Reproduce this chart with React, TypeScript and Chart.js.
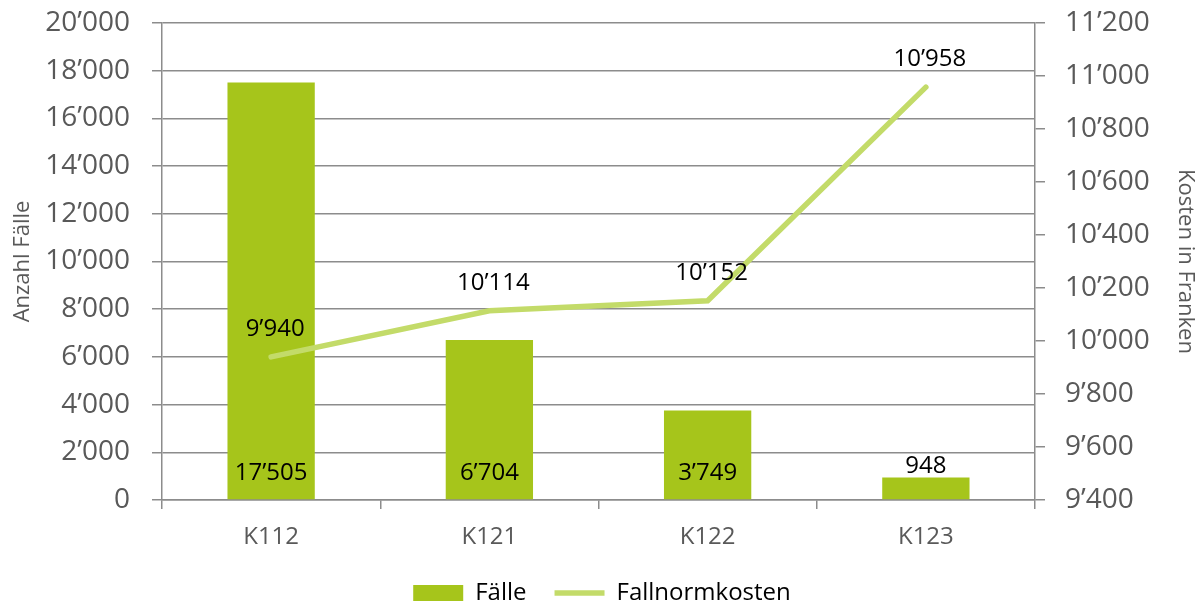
import React, { useEffect, useRef } from "react";
import { Chart, registerables } from "chart.js";

Chart.register(...registerables);

const categories = ["K112", "K121", "K122", "K123"];
const faelle = [17505, 6704, 3749, 948];
const fallnormkosten = [9940, 10114, 10152, 10958];

const leftTitle = "Anzahl Fälle";
const rightTitle = "Kosten in Franken";
const barLabel = "Fälle";
const lineLabel = "Fallnormkosten";

const FONT = "'Open Sans', sans-serif";
const BAR_COLOR = "#a6c51b";
const LINE_COLOR = "#c3db69";
const GRID_COLOR = "#8c8c8c";
const TICK_COLOR = "#595959";

function fmt(v: number): string {
  return String(Math.round(v)).replace(/\B(?=(\d{3})+(?!\d))/g, "\u2019");
}

const dataLabelPlugin = {
  id: "dataLabels",
  afterDatasetsDraw(chart: any) {
    const ctx = chart.ctx;
    ctx.save();
    ctx.font = `24px ${FONT}`;
    ctx.fillStyle = "#000";
    ctx.textAlign = "center";
    ctx.textBaseline = "middle";
    chart.data.datasets.forEach((ds: any, di: number) => {
      const meta = chart.getDatasetMeta(di);
      meta.data.forEach((el: any, i: number) => {
        const v = ds.data[i];
        if (ds.type === "bar") {
          const h = el.base - el.y;
          const y = h > 40 ? el.base - 26 : el.y - 11;
          ctx.fillText(fmt(v), el.x, y);
        } else {
          ctx.fillText(fmt(v), el.x + 4, el.y - 28);
        }
      });
    });
    ctx.restore();
  },
};

export default function App() {
  const ref = useRef<HTMLCanvasElement>(null);
  useEffect(() => {
    if (!ref.current) return;
    const chart = new Chart(ref.current, {
      data: {
        labels: categories,
        datasets: [
          {
            type: "bar",
            label: barLabel,
            data: faelle,
            backgroundColor: BAR_COLOR,
            yAxisID: "y",
            order: 2,
            barPercentage: 0.4,
            categoryPercentage: 1,
            pointStyle: "rect",
          } as any,
          {
            type: "line",
            label: lineLabel,
            data: fallnormkosten,
            borderColor: LINE_COLOR,
            backgroundColor: LINE_COLOR,
            borderWidth: 5.5,
            borderCapStyle: "round",
            pointRadius: 0,
            pointHoverRadius: 0,
            pointStyle: "line",
            yAxisID: "y1",
            order: 1,
            tension: 0,
          } as any,
        ],
      },
      options: {
        responsive: false,
        animation: false,
        layout: { padding: { top: 23, bottom: -10, left: 0, right: 0 } },
        plugins: {
          tooltip: { enabled: false },
          legend: {
            position: "bottom",
            labels: {
              usePointStyle: true,
              pointStyleWidth: 50,
              boxHeight: 16,
              padding: 28,
              color: "#000",
              font: { family: FONT, size: 24, lineHeight: 1 },
              sort: (a: any, b: any) => a.datasetIndex - b.datasetIndex,
            },
          },
        },
        scales: {
          x: {
            offset: true,
            grid: {
              display: true,
              drawOnChartArea: false,
              drawTicks: true,
              tickLength: 9,
              offset: true,
              color: GRID_COLOR,
              lineWidth: 1.5,
            },
            border: { display: true, color: GRID_COLOR, width: 1.5 },
            ticks: {
              color: TICK_COLOR,
              padding: 14,
              font: { family: FONT, size: 24 },
            },
            afterFit(scale: any) {
              scale.height = 53;
            },
          },
          y: {
            position: "left",
            min: 0,
            max: 20000,
            ticks: {
              stepSize: 2000,
              color: TICK_COLOR,
              padding: 22,
              font: { family: FONT, size: 28 },
              callback: (v: any) => fmt(Number(v)),
            },
            grid: {
              color: GRID_COLOR,
              lineWidth: 1.5,
              drawTicks: true,
              tickLength: 10,
            },
            border: { display: true, color: GRID_COLOR, width: 1.5 },
            title: {
              display: true,
              text: leftTitle,
              color: TICK_COLOR,
              font: { family: FONT, size: 22 },
              padding: { top: 10, bottom: 0 },
            },
            afterFit(scale: any) {
              scale.width = 162;
              scale.paddingTop = 0;
              scale.paddingBottom = 0;
            },
          },
          y1: {
            position: "right",
            min: 9400,
            max: 11200,
            ticks: {
              stepSize: 200,
              color: TICK_COLOR,
              padding: 20,
              font: { family: FONT, size: 28 },
              callback: (v: any) => fmt(Number(v)),
            },
            grid: {
              drawOnChartArea: false,
              color: GRID_COLOR,
              lineWidth: 1.5,
              drawTicks: true,
              tickLength: 10,
            },
            border: { display: true, color: GRID_COLOR, width: 1.5 },
            title: {
              display: true,
              text: rightTitle,
              color: TICK_COLOR,
              font: { family: FONT, size: 22 },
              padding: { top: 6, bottom: 0 },
            },
            afterFit(scale: any) {
              scale.width = 169;
              scale.paddingTop = 0;
              scale.paddingBottom = 0;
            },
          },
        },
      },
      plugins: [dataLabelPlugin],
    });
    return () => chart.destroy();
  }, []);

  return (
    <div style={{ position: "absolute", left: 0, top: 0, width: 1204, height: 605, background: "#fff", overflow: "hidden" }}>
      <canvas ref={ref} width={1204} height={605} style={{ display: "block" }} />
    </div>
  );
}
